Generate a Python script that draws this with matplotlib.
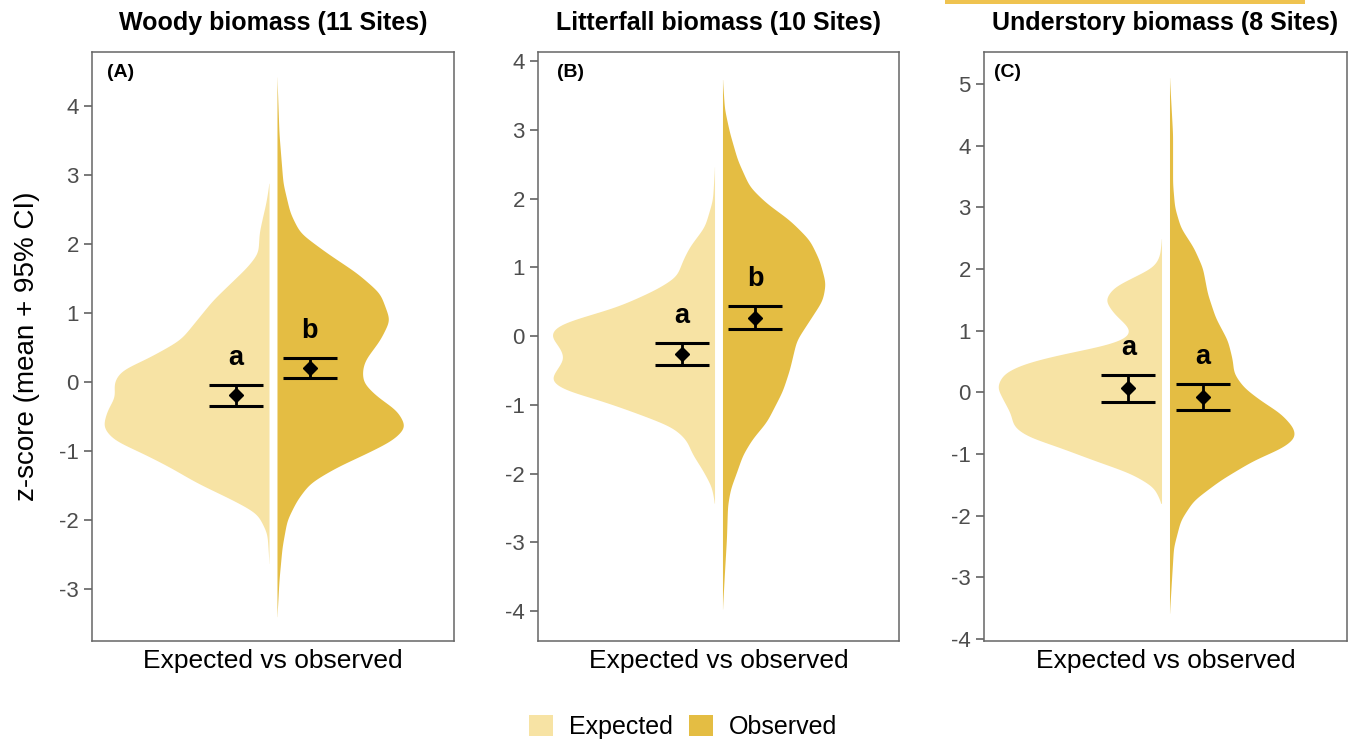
import numpy as np
import matplotlib
matplotlib.use("Agg")
import matplotlib.pyplot as plt
from matplotlib.patches import Patch, Rectangle

plt.rcParams['font.family'] = ['Liberation Sans', 'DejaVu Sans']

EXP_COLOR = '#F7E3A4'
OBS_COLOR = '#E4BD43'
TEXT_GREY = '#4D4D4D'
FRAME_GREY = '#666666'

titles = ['Woody biomass (11 Sites)', 'Litterfall biomass (10 Sites)',
          'Understory biomass (8 Sites)']
panel_tags = ['(A)', '(B)', '(C)']
group_labels = ['Expected', 'Observed']

# Half-violin density outlines: z-score positions and half widths
woody_exp_z = [2.88, 2.60, 2.40, 2.16, 1.87, 1.67, 1.43, 1.19, 0.90, 0.61, 0.42, 0.32,
               0.22, 0.17, -0.01, -0.21, -0.41, -0.65, -0.84, -1.03, -1.23, -1.46,
               -1.71, -1.90, -2.19, -2.63]
woody_exp_w = [0.0, 0.017, 0.035, 0.055, 0.06, 0.12, 0.215, 0.31, 0.40, 0.49, 0.62, 0.69,
               0.78, 0.82, 0.86, 0.85, 0.895, 0.92, 0.86, 0.70, 0.55, 0.40,
               0.20, 0.066, 0.011, 0.0]
woody_obs_z = [4.42, 3.60, 2.88, 2.45, 2.16, 1.87, 1.58, 1.29, 0.90, 0.61, 0.32, 0.17,
               -0.01, -0.21, -0.41, -0.65, -0.84, -1.03, -1.23, -1.46, -1.71, -2.00,
               -2.39, -2.87, -3.40]
woody_obs_w = [0.0, 0.011, 0.033, 0.072, 0.127, 0.276, 0.442, 0.569, 0.624, 0.569, 0.486,
               0.47, 0.475, 0.552, 0.663, 0.713, 0.641, 0.497, 0.331, 0.182, 0.11,
               0.055, 0.028, 0.011, 0.0]

litter_exp_z = [2.46, 1.98, 1.59, 1.30, 1.10, 0.86, 0.67, 0.42, 0.28, 0.16, 0.01, -0.16,
                -0.32, -0.49, -0.64, -0.78, -0.93, -1.12, -1.32, -1.51, -1.70, -1.95,
                -2.19, -2.43]
litter_exp_w = [0.0, 0.011, 0.055, 0.139, 0.177, 0.211, 0.33, 0.543, 0.731, 0.875, 0.914,
                0.859, 0.831, 0.875, 0.914, 0.842, 0.637, 0.432, 0.233, 0.155, 0.127,
                0.066, 0.017, 0.0]
litter_obs_z = [3.73, 3.30, 2.96, 2.56, 2.17, 1.93, 1.69, 1.40, 1.10, 0.77, 0.52, 0.23,
                -0.06, -0.49, -0.80, -1.25, -1.49, -1.73, -1.98, -2.22, -2.46, -2.95,
                -3.44, -3.97]
litter_obs_w = [0.0, 0.011, 0.039, 0.083, 0.15, 0.244, 0.371, 0.482, 0.537, 0.571, 0.554,
                0.482, 0.41, 0.371, 0.332, 0.244, 0.166, 0.111, 0.078, 0.044, 0.028,
                0.022, 0.011, 0.0]

under_exp_z = [2.49, 2.20, 2.03, 1.87, 1.71, 1.50, 1.28, 1.06, 0.96, 0.85, 0.74, 0.63,
               0.47, 0.31, 0.09, -0.13, -0.34, -0.56, -0.72, -0.88, -1.10, -1.31,
               -1.53, -1.80]
under_exp_w = [0.0, 0.011, 0.044, 0.154, 0.264, 0.314, 0.264, 0.182, 0.171, 0.209, 0.336,
               0.54, 0.76, 0.871, 0.909, 0.871, 0.832, 0.815, 0.738, 0.573, 0.375,
               0.171, 0.044, 0.0]
under_obs_z = [5.10, 4.19, 3.38, 3.00, 2.67, 2.35, 2.02, 1.60, 1.21, 0.84, 0.52, 0.31,
               0.08, -0.13, -0.34, -0.57, -0.73, -0.89, -1.10, -1.42, -1.75, -2.07,
               -2.51, -3.04, -3.58]
under_obs_w = [0.0, 0.017, 0.017, 0.028, 0.061, 0.132, 0.182, 0.209, 0.253, 0.32, 0.347,
               0.353, 0.408, 0.501, 0.612, 0.683, 0.694, 0.628, 0.463, 0.281, 0.132,
               0.061, 0.022, 0.011, 0.0]

# Means and 95% confidence limits: [expected, observed]
woody_mean = [-0.19, 0.20]
woody_lo = [-0.35, 0.06]
woody_hi = [-0.04, 0.35]
litter_mean = [-0.26, 0.26]
litter_lo = [-0.42, 0.10]
litter_hi = [-0.10, 0.44]
under_mean = [0.07, -0.08]
under_lo = [-0.16, -0.29]
under_hi = [0.28, 0.13]

woody_letters = ['a', 'b']
litter_letters = ['a', 'b']
under_letters = ['a', 'a']

y_ticks = [[-3, -2, -1, 0, 1, 2, 3, 4],
           [-4, -3, -2, -1, 0, 1, 2, 3, 4],
           [-4, -3, -2, -1, 0, 1, 2, 3, 4, 5]]
y_limits = [(-3.754, 4.783), (-4.436, 4.131), (-4.033, 5.518)]

panels = [
    dict(exp=(woody_exp_z, woody_exp_w), obs=(woody_obs_z, woody_obs_w),
         mean=woody_mean, lo=woody_lo, hi=woody_hi, letters=woody_letters),
    dict(exp=(litter_exp_z, litter_exp_w), obs=(litter_obs_z, litter_obs_w),
         mean=litter_mean, lo=litter_lo, hi=litter_hi, letters=litter_letters),
    dict(exp=(under_exp_z, under_exp_w), obs=(under_obs_z, under_obs_w),
         mean=under_mean, lo=under_lo, hi=under_hi, letters=under_letters),
]

W, H = 1348, 739
# axes boxes in pixels: left, right, top, bottom
boxes = [(92, 454, 52, 641), (538, 899, 52, 641), (984, 1347, 52, 641)]
tag_x = [0.041, 0.053, 0.028]

GAP = 0.022        # half gap between the two halves
BAR_X = 0.204      # horizontal offset of the mean/CI bars


def smooth_profile(z, w, n=1200, sigma=0.07):
    z = np.asarray(z, float)
    w = np.asarray(w, float)
    order = np.argsort(z)
    z, w = z[order], w[order]
    grid = np.linspace(z[0], z[-1], n)
    vals = np.interp(grid, z, w)
    dz = grid[1] - grid[0]
    k = max(1, int(4 * sigma / dz))
    kern = np.exp(-0.5 * (np.arange(-k, k + 1) * dz / sigma) ** 2)
    kern /= kern.sum()
    padded = np.pad(vals, k, mode='constant')
    sm = np.convolve(padded, kern, mode='valid')
    return grid, sm


fig = plt.figure(figsize=(W / 100, H / 100), dpi=100)

for i, (p, (l, r, t, b)) in enumerate(zip(panels, boxes)):
    ax = fig.add_axes([l / W, 1 - b / H, (r - l) / W, (b - t) / H])
    ax.set_xlim(-1, 1)
    ax.set_ylim(*y_limits[i])

    gz, gw = smooth_profile(*p['exp'])
    ax.fill_betweenx(gz, -GAP - gw, -GAP, color=EXP_COLOR, lw=0)
    gz, gw = smooth_profile(*p['obs'])
    ax.fill_betweenx(gz, GAP, GAP + gw, color=OBS_COLOR, lw=0)

    for j, xpos in enumerate([-BAR_X, BAR_X]):
        m, lo, hi = p['mean'][j], p['lo'][j], p['hi'][j]
        ax.errorbar([xpos], [m], yerr=[[m - lo], [hi - m]], fmt='D', color='black',
                    ms=7.5, elinewidth=2.0, capsize=19.5, capthick=2.2, zorder=5)
        ax.annotate(p['letters'][j], xy=(xpos, hi), xytext=(0, 14.5),
                    textcoords='offset points', ha='center', va='baseline',
                    fontsize=19.5, fontweight='bold', color='black')

    ax.text(tag_x[i], 0.966, panel_tags[i], transform=ax.transAxes, ha='left',
            va='center', fontsize=14, fontweight='bold')

    ax.set_xticks([])
    ax.set_yticks(y_ticks[i])
    ax.set_yticklabels([str(v) for v in y_ticks[i]])
    ax.tick_params(axis='y', length=5.5, width=1.1, color='#555555', pad=4,
                   labelsize=16, labelcolor=TEXT_GREY)
    for sp in ax.spines.values():
        sp.set_color(FRAME_GREY)
        sp.set_linewidth(1.1)

    ax.set_title(titles[i], fontsize=18, fontweight='bold', pad=15.8)
    fig.text((l + r) / 2 / W, 1 - 668 / H, 'Expected vs observed', ha='center',
             va='baseline', fontsize=19)

fig.text(27 / W, 1 - 346 / H, 'z-score (mean + 95% CI)', rotation=90,
         ha='center', va='center', fontsize=20)

# accent bar above the third panel title
fig.patches.append(Rectangle((945 / W, 1 - 4 / H), 360 / W, 4 / H,
                             transform=fig.transFigure, color='#EFC350', lw=0))

handles = [Patch(facecolor=EXP_COLOR, edgecolor='none', label=group_labels[0]),
           Patch(facecolor=OBS_COLOR, edgecolor='none', label=group_labels[1])]
fig.legend(handles=handles, loc='center', bbox_to_anchor=(683 / W, 1 - 727 / H),
           ncol=2, frameon=False, fontsize=18, handlelength=0.95, handleheight=0.95,
           handletextpad=0.65, columnspacing=0.65, borderpad=0)

fig.savefig('out.png', dpi=100)
